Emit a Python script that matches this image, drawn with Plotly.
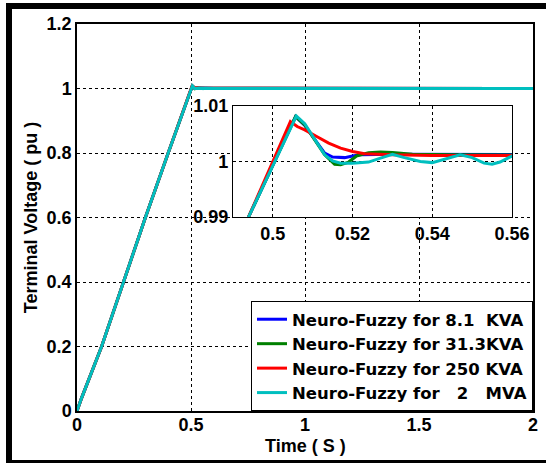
import plotly.graph_objects as go

# ---------------- data ----------------
ramp_t = [0.0, 0.02, 0.108, 0.203, 0.3, 0.4, 0.4939]
ramp_v = [0.0, 0.04, 0.2, 0.4, 0.6, 0.8, 0.99]

blue_t = ramp_t + [0.5057, 0.508, 0.511, 0.513, 0.515, 0.518, 0.520, 0.522, 0.53, 0.54, 0.56, 0.6, 2.0]
blue_v = ramp_v + [1.0081, 1.0065, 1.0035, 1.0015, 1.0008, 1.0007, 1.0010, 1.0012, 1.0013, 1.0012, 1.0010, 1.001, 1.0]

green_t = ramp_t + [0.5057, 0.508, 0.511, 0.513, 0.5155, 0.517, 0.519, 0.521, 0.524, 0.527, 0.530, 0.535, 0.545, 0.56, 0.6, 2.0]
green_v = ramp_v + [1.0081, 1.0066, 1.0035, 1.0012, 0.9995, 0.9994, 0.9999, 1.0010, 1.0016, 1.0017, 1.0016, 1.0013, 1.0012, 1.0011, 1.001, 1.0]

red_t = ramp_t + [0.5044, 0.5061, 0.508, 0.511, 0.514, 0.517, 0.520, 0.523, 0.53, 0.54, 0.55, 0.56, 0.6, 2.0]
red_v = ramp_v + [1.0072, 1.0063, 1.0057, 1.0045, 1.0033, 1.0024, 1.0018, 1.0014, 1.0012, 1.0011, 1.0010, 1.0009, 1.001, 1.0]

cyan_t = ramp_t + [0.5059, 0.508, 0.511, 0.513, 0.515, 0.517, 0.520, 0.524, 0.527, 0.530, 0.533, 0.537, 0.540,
                   0.543, 0.547, 0.550, 0.553, 0.555, 0.557, 0.560, 0.6, 2.0]
cyan_v = ramp_v + [1.0082, 1.0068, 1.0035, 1.0012, 1.0001, 0.9997, 0.9997, 0.9999, 1.0006, 1.0013, 1.0007, 1.0000, 0.9998,
                   1.0004, 1.0012, 1.0007, 0.9997, 0.9995, 0.9999, 1.0010, 1.0, 1.0]

series_names = ["Neuro-Fuzzy for 8.1\u00a0 KVA",
                "Neuro-Fuzzy for 31.3KVA",
                "Neuro-Fuzzy for 250 KVA",
                "Neuro-Fuzzy for \u00a0 2 \u00a0 MVA"]
series_t = [blue_t, green_t, red_t, cyan_t]
series_v = [blue_v, green_v, red_v, cyan_v]
series_colors = ["#0000FF", "#008000", "#FF0000", "#00BFBF"]

main_xticks = [0, 0.5, 1, 1.5, 2]
main_yticks = [0, 0.2, 0.4, 0.6, 0.8, 1.0, 1.2]
inset_xticks = [0.5, 0.52, 0.54, 0.56]
inset_yticks = [0.99, 1.0, 1.01]
x_title = "Time ( S )"
y_title = "Terminal Voltage ( pu )"

# ---------------- figure ----------------
FONT = "Liberation Sans, Arial, sans-serif"
LEG_FONT = "DejaVu Sans, Liberation Sans, sans-serif"
W, H = 546, 463
ML, MR, MT, MB = 77, 13, 24, 52
pw, ph = W - ML - MR, H - MT - MB
XR = [0, 2]
YR = [0, 1.2]

def px_to_paper_x(p):
    return (p - ML) / pw

def px_to_paper_y(p):
    return (H - MB - p) / ph

fig = go.Figure()

for name, t, v, c in zip(series_names, series_t, series_v, series_colors):
    fig.add_trace(go.Scatter(x=t, y=v, mode="lines", name=name,
                             line=dict(color=c, width=3), xaxis="x", yaxis="y"))
for name, t, v, c in zip(series_names, series_t, series_v, series_colors):
    fig.add_trace(go.Scatter(x=t, y=v, mode="lines", name=name, showlegend=False,
                             line=dict(color=c, width=3), xaxis="x2", yaxis="y2"))

inset_x = [px_to_paper_x(233), px_to_paper_x(512)]
inset_y = [px_to_paper_y(217), px_to_paper_y(106)]

tickfont = dict(family=FONT, size=18, color="black", weight="bold")
axis_common = dict(showline=True, mirror=True, linecolor="black", linewidth=1.5,
                   showgrid=True, gridcolor="black", gridwidth=1, griddash="dot",
                   zeroline=False, ticks="", tickfont=tickfont, automargin=False)

fig.update_layout(
    template="none",
    width=W, height=H,
    margin=dict(l=ML, r=MR, t=MT, b=MB, autoexpand=False),
    paper_bgcolor="white", plot_bgcolor="white",
    font=dict(family=FONT, color="black"),
    xaxis=dict(range=XR, tickvals=main_xticks, domain=[0, 1], ticklabelstandoff=-3, **axis_common),
    yaxis=dict(range=YR, tickvals=main_yticks, domain=[0, 1],
               title=dict(text=y_title, font=dict(family=FONT, size=18, weight="bold"), standoff=4),
               **axis_common),
    xaxis2=dict(range=[0.49, 0.56], tickvals=inset_xticks, domain=inset_x, anchor="y2",
                **{**axis_common, "linewidth": 1.2}),
    yaxis2=dict(range=[0.99, 1.01], tickvals=inset_yticks, domain=inset_y, anchor="x2",
                **{**axis_common, "linewidth": 1.2}),
    legend=dict(x=1, y=0, xanchor="right", yanchor="bottom", bgcolor="white",
                bordercolor="black", borderwidth=1,
                font=dict(family=LEG_FONT, size=16.5, color="black", weight="bold"),
                tracegroupgap=0),
    showlegend=True,
)

# x axis title placed just under the tick labels
fig.add_annotation(text=x_title, xref="paper", yref="paper", x=0.5, y=px_to_paper_y(446),
                   xanchor="center", yanchor="middle", showarrow=False,
                   font=dict(family=FONT, size=18, color="black", weight="bold"))

# white backing behind the inset (hides main grid; drawn between grid and traces of main plot)
fig.add_shape(type="rect", xref="x", yref="y",
              x0=XR[0] + inset_x[0] * (XR[1] - XR[0]), x1=XR[0] + inset_x[1] * (XR[1] - XR[0]),
              y0=YR[0] + inset_y[0] * (YR[1] - YR[0]), y1=YR[0] + inset_y[1] * (YR[1] - YR[0]),
              fillcolor="white", line=dict(width=0), layer="between")

# thick outer frame of the picture
fig.add_shape(type="rect", xref="paper", yref="paper",
              x0=px_to_paper_x(9), x1=px_to_paper_x(552),
              y0=px_to_paper_y(463), y1=px_to_paper_y(6),
              line=dict(color="black", width=6), fillcolor="rgba(0,0,0,0)", layer="above")

fig.write_html("out.html")
